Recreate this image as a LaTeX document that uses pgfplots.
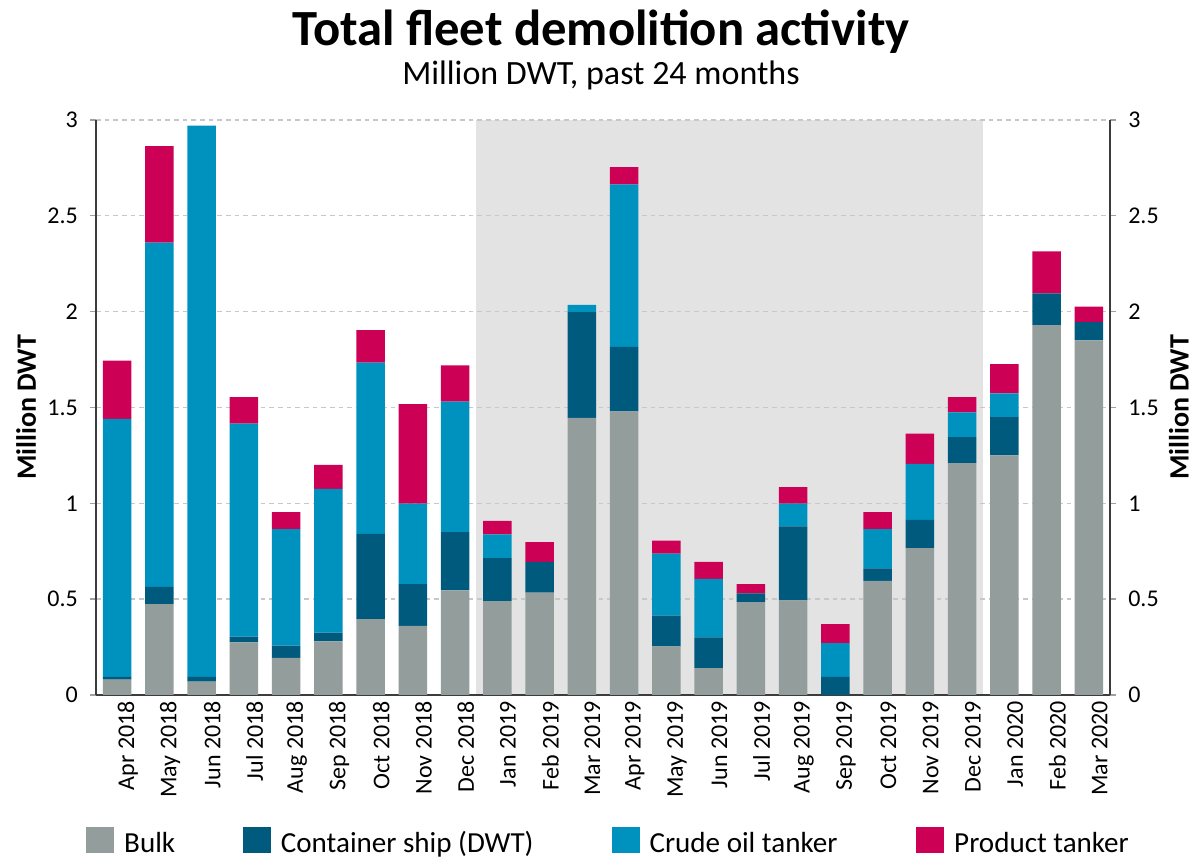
\documentclass[border=0pt]{standalone}
\usepackage{pgfplots}
\pgfplotsset{compat=1.18}
\usepackage{pgfplotstable}
\usepackage{fontspec}
\setmainfont{Carlito}
\definecolor{cbulk}{RGB}{147,157,156}
\definecolor{ccont}{RGB}{0,90,126}
\definecolor{ccrude}{RGB}{0,146,191}
\definecolor{cprod}{RGB}{204,0,85}
\definecolor{cshade}{RGB}{227,227,227}
\definecolor{cgrid}{RGB}{200,200,200}
\definecolor{caxis}{RGB}{60,60,60}

\pgfplotstableread{
x bulk cont crude prod
0 0.080 0.014 1.346 0.304
1 0.474 0.090 1.796 0.504
2 0.070 0.024 2.876 0.000
3 0.274 0.030 1.112 0.138
4 0.194 0.064 0.608 0.088
5 0.280 0.046 0.750 0.124
6 0.396 0.444 0.894 0.170
7 0.360 0.218 0.420 0.520
8 0.546 0.304 0.680 0.190
9 0.490 0.224 0.124 0.070
10 0.534 0.160 0.000 0.104
11 1.446 0.552 0.038 0.000
12 1.480 0.336 0.848 0.090
13 0.254 0.160 0.324 0.068
14 0.140 0.160 0.306 0.088
15 0.484 0.046 0.000 0.048
16 0.494 0.386 0.118 0.086
17 0.000 0.094 0.176 0.100
18 0.596 0.064 0.206 0.088
19 0.766 0.148 0.292 0.158
20 1.210 0.136 0.128 0.080
21 1.250 0.200 0.124 0.152
22 1.930 0.166 0.000 0.218
23 1.850 0.096 0.000 0.080
}\data

\begin{document}
\begin{tikzpicture}[x=0.75pt,y=0.75pt]
\path[use as bounding box] (0,0) rectangle (1195,859);
\node[anchor=base, font=\fontsize{38}{40}\selectfont\bfseries] at (601,813) {Total fleet demolition activity};
\node[anchor=base, font=\fontsize{25.5}{28}\selectfont] at (601,774) {Million DWT, past 24 months};

% background shade + right axis
\begin{axis}[
  at={(72pt,123pt)}, anchor=south west,
  scale only axis, width=760.5pt, height=431.25pt,
  xmin=-0.5, xmax=23.5, ymin=0, ymax=3,
  axis y line*=right, axis x line=none,
  axis line style={caxis, line width=1.5pt},
  ytick={0,0.5,1,1.5,2,2.5,3},
  yticklabels={0,0.5,1,1.5,2,2.5,3},
  yticklabel style={font=\fontsize{18}{20}\selectfont, inner sep=0pt, xshift=9pt},
  y tick style={cgrid!80!black, line width=1pt},
  tick align=outside, major tick length=4.5pt,
  ylabel={Million DWT},
  every axis y label/.style={at={(rel axis cs:1.068,0.5)}, rotate=90, anchor=center, font=\fontsize{21}{24}\selectfont\bfseries},
]
\fill[cshade] (axis cs:8.5,0) rectangle (axis cs:20.5,3);
\end{axis}

\begin{axis}[
  at={(72pt,123pt)}, anchor=south west,
  scale only axis, width=760.5pt, height=431.25pt,
  xmin=-0.5, xmax=23.5, ymin=0, ymax=3,
  ybar stacked, bar width=0.67,
  axis x line*=bottom, axis y line*=left,
  axis line style={caxis, line width=1.5pt},
  xtick={0,...,23},
  xticklabels={Apr 2018,May 2018,Jun 2018,Jul 2018,Aug 2018,Sep 2018,Oct 2018,Nov 2018,Dec 2018,Jan 2019,Feb 2019,Mar 2019,Apr 2019,May 2019,Jun 2019,Jul 2019,Aug 2019,Sep 2019,Oct 2019,Nov 2019,Dec 2019,Jan 2020,Feb 2020,Mar 2020},
  xticklabel style={rotate=90, anchor=east, font=\fontsize{18}{20}\selectfont, inner sep=0pt, yshift=-8pt},
  x tick style={draw=none},
  ytick={0,0.5,1,1.5,2,2.5,3},
  yticklabels={0,0.5,1,1.5,2,2.5,3},
  yticklabel style={font=\fontsize{18}{20}\selectfont, inner sep=0pt, xshift=-9pt},
  y tick style={cgrid!80!black, line width=1pt},
  tick align=outside, major tick length=4.5pt,
  ymajorgrids,
  major grid style={cgrid, line width=1pt, dash pattern=on 3.5pt off 3pt},
  ylabel={Million DWT},
  every axis y label/.style={at={(rel axis cs:-0.069,0.5)}, rotate=90, anchor=center, font=\fontsize{21}{24}\selectfont\bfseries},
  legend columns=4,
  legend style={at={(rel axis cs:-0.0099,-0.2535)}, anchor=west, draw=none, fill=none, inner sep=0pt,
    font=\fontsize{21.8}{24}\selectfont, nodes={inner sep=0pt}},
  legend cell align=left,
  legend image code/.code={\fill[#1] (0pt,-7.5pt) rectangle (21pt,12pt);},
  /tikz/every odd column/.append style={column sep=7.5pt},
]
\addplot[fill=cbulk, draw=none] table[x=x, y=bulk] {\data};
\addplot[fill=ccont, draw=none] table[x=x, y=cont] {\data};
\addplot[fill=ccrude, draw=none] table[x=x, y=crude] {\data};
\addplot[fill=cprod, draw=none] table[x=x, y=prod] {\data};
\legend{\makebox[89pt][l]{Bulk},\makebox[248pt][l]{Container ship (DWT)},\makebox[200pt][l]{Crude oil tanker},Product tanker}
\draw[caxis, line width=1.5pt] (axis cs:-0.5,0) -- (axis cs:23.5,0);
\end{axis}
\end{tikzpicture}
\end{document}
